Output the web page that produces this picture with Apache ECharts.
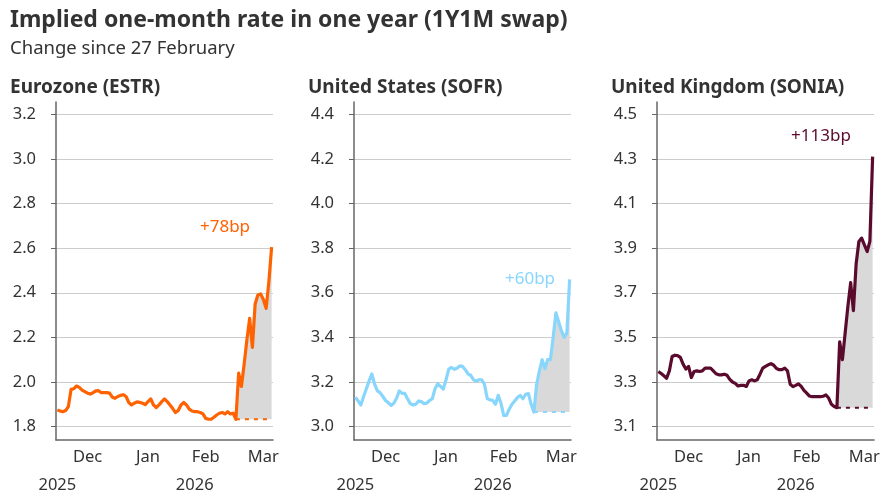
<!DOCTYPE html>
<html>
<head>
<meta charset="utf-8">
<script src="https://cdn.jsdelivr.net/npm/echarts@6/dist/echarts.min.js"></script>
<style>
  html, body { margin: 0; padding: 0; background: #fff; }
  #chart { width: 883px; height: 498px; }
</style>
</head>
<body>
<div id="chart"></div>
<script>
// business days, 28 Nov 2025 - 18 Mar 2026
var dates = [
  '2025-11-28',
  '2025-12-01','2025-12-02','2025-12-03','2025-12-04','2025-12-05',
  '2025-12-08','2025-12-09','2025-12-10','2025-12-11','2025-12-12',
  '2025-12-15','2025-12-16','2025-12-17','2025-12-18','2025-12-19',
  '2025-12-22','2025-12-23','2025-12-24','2025-12-25','2025-12-26',
  '2025-12-29','2025-12-30','2025-12-31',
  '2026-01-01','2026-01-02',
  '2026-01-05','2026-01-06','2026-01-07','2026-01-08','2026-01-09',
  '2026-01-12','2026-01-13','2026-01-14','2026-01-15','2026-01-16',
  '2026-01-19','2026-01-20','2026-01-21','2026-01-22','2026-01-23',
  '2026-01-26','2026-01-27','2026-01-28','2026-01-29','2026-01-30',
  '2026-02-02','2026-02-03','2026-02-04','2026-02-05','2026-02-06',
  '2026-02-09','2026-02-10','2026-02-11','2026-02-12','2026-02-13',
  '2026-02-16','2026-02-17','2026-02-18','2026-02-19','2026-02-20',
  '2026-02-23','2026-02-24','2026-02-25','2026-02-26','2026-02-27',
  '2026-03-02','2026-03-03','2026-03-04','2026-03-05','2026-03-06',
  '2026-03-09','2026-03-10','2026-03-11','2026-03-12','2026-03-13',
  '2026-03-16','2026-03-17','2026-03-18'
];

var estr = [
  1.875,1.870,1.867,1.872,1.890,1.967,1.970,1.982,1.976,1.964,
  1.957,1.950,1.946,1.952,1.960,1.961,1.952,1.952,1.952,1.950,
  1.932,1.927,1.935,1.940,1.943,1.935,1.908,1.897,1.905,1.911,
  1.909,1.905,1.899,1.912,1.924,1.897,1.885,1.897,1.912,1.924,
  1.912,1.897,1.881,1.863,1.872,1.897,1.908,1.897,1.878,1.870,
  1.867,1.867,1.863,1.857,1.837,1.833,1.833,1.842,1.852,1.860,
  1.863,1.857,1.867,1.857,1.860,1.833,
  2.040,1.980,2.080,2.190,2.285,2.155,2.350,2.390,2.395,2.370,
  2.330,2.450,2.605
];

var sofr = [
  3.132,3.115,3.097,3.135,3.170,3.205,3.236,3.190,3.160,3.152,
  3.135,3.117,3.107,3.095,3.105,3.127,3.160,3.149,3.149,3.125,
  3.103,3.097,3.100,3.115,3.112,3.103,3.105,3.117,3.125,3.170,
  3.192,3.180,3.168,3.210,3.258,3.265,3.257,3.262,3.272,3.270,
  3.255,3.236,3.230,3.210,3.204,3.210,3.210,3.190,3.126,3.120,
  3.118,3.100,3.140,3.105,3.050,3.050,3.078,3.100,3.115,3.130,
  3.140,3.125,3.145,3.148,3.100,3.065,
  3.190,3.250,3.300,3.260,3.300,3.300,3.400,3.510,3.470,3.430,
  3.400,3.420,3.660
];

var sonia = [
  3.347,3.338,3.328,3.317,3.350,3.414,3.420,3.418,3.410,3.380,
  3.358,3.370,3.320,3.347,3.350,3.347,3.350,3.362,3.362,3.362,
  3.350,3.337,3.332,3.332,3.335,3.330,3.312,3.300,3.294,3.282,
  3.285,3.285,3.280,3.305,3.310,3.305,3.310,3.335,3.362,3.370,
  3.377,3.382,3.375,3.360,3.355,3.355,3.362,3.350,3.290,3.279,
  3.285,3.292,3.280,3.262,3.250,3.237,3.234,3.234,3.234,3.234,
  3.236,3.242,3.228,3.200,3.190,3.185,
  3.480,3.400,3.520,3.640,3.745,3.620,3.830,3.930,3.945,3.915,
  3.885,3.930,4.310
];

var baseDate = '2026-02-27';
var monthTicks = ['2025-12-15','2026-01-14','2026-02-12','2026-03-13'];
var yearTicks = ['2025-11-28','2026-02-06'];
var monthNames = ['Jan','Feb','Mar','Apr','May','Jun','Jul','Aug','Sep','Oct','Nov','Dec'];

var panels = [
  { name: 'Eurozone (ESTR)', values: estr, color: '#ff6200', change: '+78bp',
    ticks: [1.8,2.0,2.2,2.4,2.6,2.8,3.0,3.2], min: 1.74, max: 3.255 },
  { name: 'United States (SOFR)', values: sofr, color: '#89d6fd', change: '+60bp',
    ticks: [3.0,3.2,3.4,3.6,3.8,4.0,4.2,4.4], min: 2.94, max: 4.455 },
  { name: 'United Kingdom (SONIA)', values: sonia, color: '#5a0a2c', change: '+113bp',
    ticks: [3.1,3.3,3.5,3.7,3.9,4.1,4.3,4.5], min: 3.04, max: 4.555 }
];

var gridLeft = [56, 354, 657];
var notePos = [[225, 227], [530, 279], [821, 136]];
var textColor = '#333333';
var font = '"Noto Sans", "Open Sans", sans-serif';

var chart = echarts.init(document.getElementById('chart'), null, { renderer: 'canvas' });

var grids = [], xAxes = [], yAxes = [], series = [], titles = [], notes = [];
var baseIdx = dates.indexOf(baseDate);

titles.push({
  text: 'Implied one-month rate in one year (1Y1M swap)',
  subtext: 'Change since 27 February',
  left: 5, top: 4, itemGap: 7,
  textStyle: { fontFamily: font, fontSize: 23, fontWeight: 'bold', color: textColor },
  subtextStyle: { fontFamily: font, fontSize: 18.5, color: textColor }
});

panels.forEach(function (p, k) {
  grids.push({ left: gridLeft[k], top: 102, width: 217, height: 338, containLabel: false });

  titles.push({
    text: p.name, left: gridLeft[k] - 51, top: 73,
    textStyle: { fontFamily: font, fontSize: 19, fontWeight: 'bold', color: textColor }
  });

  xAxes.push({
    type: 'category', gridIndex: k, data: dates, boundaryGap: true,
    axisLine: { onZero: false, lineStyle: { color: '#666', width: 1.5 } },
    axisTick: { show: false },
    splitLine: { show: false },
    axisLabel: {
      interval: function (i, v) { return monthTicks.indexOf(v) >= 0; },
      formatter: function (v) { return monthNames[+v.slice(5, 7) - 1]; },
      margin: 9, color: textColor, fontFamily: font, fontSize: 16.5
    }
  });
  xAxes.push({
    type: 'category', gridIndex: k, data: dates, boundaryGap: true, position: 'bottom',
    axisLine: { show: false }, axisTick: { show: false }, splitLine: { show: false },
    axisLabel: {
      interval: function (i, v) { return yearTicks.indexOf(v) >= 0; },
      formatter: function (v) { return v.slice(0, 4); },
      margin: 37, color: textColor, fontFamily: font, fontSize: 16.5
    }
  });

  yAxes.push({
    type: 'value', gridIndex: k, min: p.min, max: p.max,
    axisLine: { show: true, lineStyle: { color: '#666', width: 1.5 } },
    axisTick: { show: true, length: 5, customValues: p.ticks, lineStyle: { color: '#666' } },
    axisLabel: {
      customValues: p.ticks, margin: 20, color: textColor, fontFamily: font, fontSize: 16.5,
      formatter: function (v) { return v.toFixed(1); }
    },
    splitLine: { show: true, lineStyle: { color: '#cccccc', width: 1 } }
  });

  var base = p.values[baseIdx];
  var baseLine = p.values.map(function (v, i) { return i >= baseIdx ? base : null; });
  var diff = p.values.map(function (v, i) { return i >= baseIdx ? v - base : null; });

  series.push({
    type: 'line', xAxisIndex: 2 * k, yAxisIndex: k, data: baseLine, stack: 'fill' + k,
    symbol: 'none', z: 3, silent: true,
    lineStyle: { color: p.color, width: 2, type: [4, 5] }
  });
  series.push({
    type: 'line', xAxisIndex: 2 * k, yAxisIndex: k, data: diff, stack: 'fill' + k,
    symbol: 'none', z: 1, silent: true,
    lineStyle: { width: 0, opacity: 0 },
    areaStyle: { color: '#d9d9d9', opacity: 1 }
  });
  series.push({
    type: 'line', xAxisIndex: 2 * k, yAxisIndex: k, data: p.values, name: p.name,
    symbol: 'none', z: 4,
    lineStyle: { color: p.color, width: 3.2, join: 'round' }
  });

  notes.push({
    type: 'text', x: notePos[k][0], y: notePos[k][1],
    style: { text: p.change, fill: p.color, font: '17px ' + font, align: 'center', verticalAlign: 'middle' }
  });
});

chart.setOption({
  animation: false,
  title: titles,
  grid: grids,
  xAxis: xAxes,
  yAxis: yAxes,
  series: series,
  graphic: notes
});
</script>
</body>
</html>
